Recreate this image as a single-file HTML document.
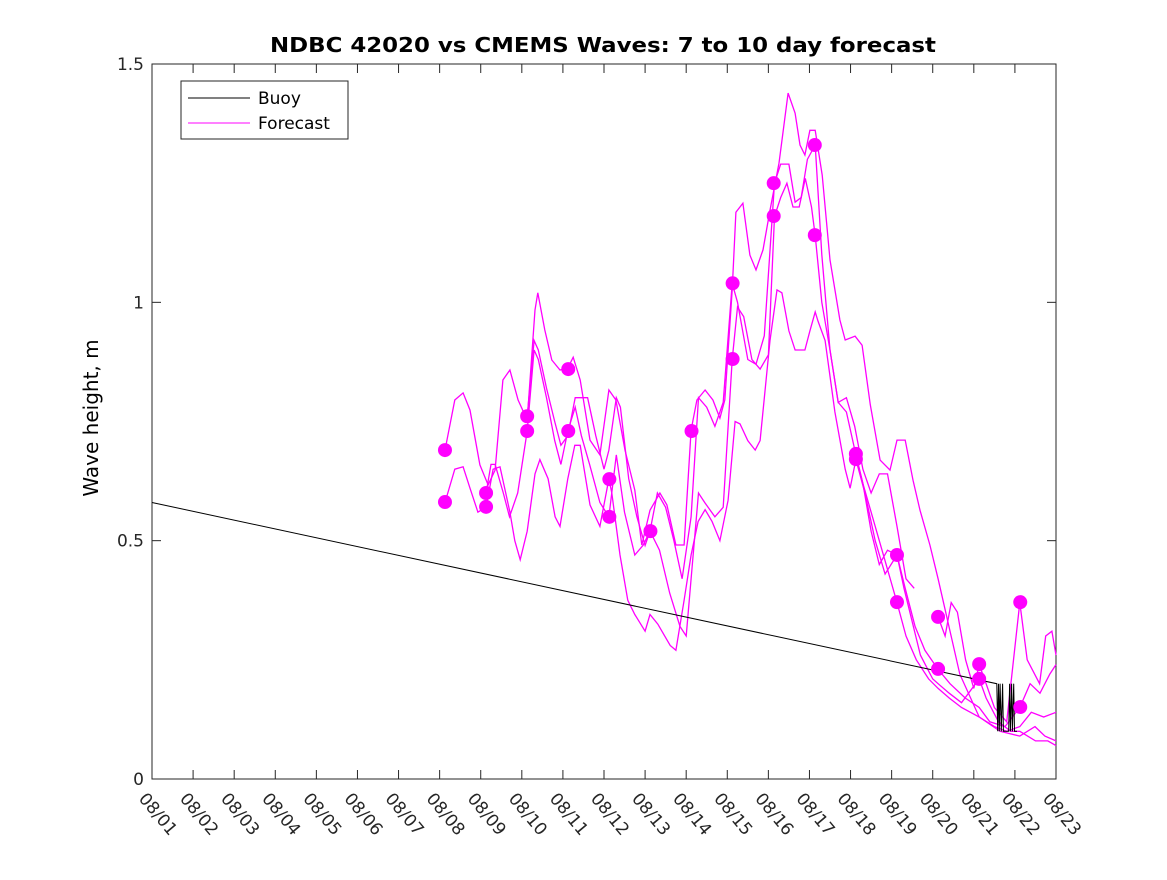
<!DOCTYPE html>
<html><head><meta charset="utf-8"><style>
body{margin:0;background:#fff}
svg text{font-family:"DejaVu Sans","Liberation Sans",sans-serif}
</style></head><body>
<svg id="chart" width="1167" height="875" xmlns="http://www.w3.org/2000/svg">
<rect x="0" y="0" width="1167" height="875" fill="#fff"/>
<text x="603" y="52" text-anchor="middle" font-size="20" font-weight="bold" textLength="666" lengthAdjust="spacingAndGlyphs">NDBC 42020 vs CMEMS Waves: 7 to 10 day forecast</text>
<text transform="translate(98,418) rotate(-90)" text-anchor="middle" font-size="20">Wave height, m</text>
<g id="plot"></g>
</svg>
<script>
const xTickLabels=["08/01","08/02","08/03","08/04","08/05","08/06","08/07","08/08","08/09","08/10","08/11","08/12","08/13","08/14","08/15","08/16","08/17","08/18","08/19","08/20","08/21","08/22","08/23"];
const yTicks=[0,0.5,1,1.5];
const yTickLabels=["0","0.5","1","1.5"];
const buoyDays=[1,21.56,21.58,21.6,21.62,21.64,21.67,21.7,21.72,21.85,21.87,21.89,21.92,21.94,21.97,21.99,22.05];
const buoyVals=[0.58,0.2,0.1,0.2,0.1,0.2,0.1,0.2,0.1,0.1,0.2,0.1,0.2,0.1,0.2,0.1,0.1];
const s1Days=[8.13,8.37,8.57,8.74,8.98,9.18,9.35,9.54,9.71,9.91,10.13,10.32,10.39,10.56,10.73,10.93,11.12,11.25,11.42,11.66,11.90,12.12,12.29,12.51,12.75,12.92,13.12,13.36,13.53,13.75,13.95,14.12,14.26,14.46,14.65,14.82,14.94,15.12,15.21,15.38,15.55,15.70,15.87,16.04,16.26,16.48,16.65,16.77,16.89,17.01,17.14,17.31,17.50,17.74,17.87,18.11,18.28,18.48,18.72,18.96,19.13,19.33,19.52,19.69,19.93,20.13,20.66,21.13,21.64,22.12,22.49,22.73,23.0];
const s1Vals=[.69,.795,.81,.774,.659,.617,.648,.837,.858,.795,.753,.984,1.02,.942,.879,.858,.862,.885,.837,.711,.68,.816,.795,.69,.606,.491,.564,.6,.575,.491,.491,.732,.795,.816,.795,.757,.795,1.026,1.189,1.208,1.099,1.068,1.11,1.193,1.292,1.439,1.397,1.33,1.309,1.361,1.361,1.267,1.089,.963,.921,.929,.91,.785,.669,.648,.711,.711,.627,.564,.491,.42,.22,.13,.1,.09,.11,.09,.08];
const s2Days=[9.13,9.25,9.35,9.55,9.7,9.9,10.13,10.3,10.4,10.6,10.8,10.95,11.12,11.3,11.45,11.65,11.9,12.12,12.3,12.5,12.75,12.95,13.12,13.35,13.6,13.85,14.0,14.12,14.3,14.45,14.7,14.9,15.12,15.25,15.4,15.6,15.8,16.0,16.15,16.3,16.45,16.6,16.75,16.9,17.05,17.14,17.3,17.5,17.7,17.9,18.13,18.3,18.5,18.7,18.9,19.13,19.35,19.6,19.9,20.13,20.4,20.7,21.13,21.5,21.8,22.12,22.4,22.7,23];
const s2Vals=[.6,.66,.66,.6,.55,.6,.73,.9,.88,.8,.71,.66,.73,.78,.72,.66,.58,.55,.68,.56,.47,.49,.52,.48,.39,.32,.3,.42,.6,.58,.55,.57,.88,.99,.97,.88,.86,.89,1.18,1.22,1.25,1.2,1.2,1.26,1.2,1.14,1.0,.9,.79,.77,.68,.62,.56,.5,.44,.37,.3,.25,.21,.19,.17,.15,.13,.11,.1,.11,.14,.13,.14];
const s3Days=[8.13,8.37,8.57,8.74,8.93,9.13,9.30,9.47,9.71,9.83,9.96,10.13,10.32,10.44,10.64,10.81,10.93,11.12,11.29,11.42,11.66,11.90,12.12,12.19,12.39,12.58,12.75,13.00,13.12,13.31,13.61,13.75,13.95,14.12,14.29,14.46,14.63,14.82,15.02,15.19,15.31,15.50,15.68,15.80,16.04,16.21,16.33,16.50,16.65,16.89,17.01,17.14,17.21,17.38,17.62,17.87,17.99,18.13,18.35,18.60,18.84,19.13,19.33,19.57,19.81,20.13,20.42,20.79,21.13,21.39,21.76,22.12,22.37,22.61,22.85,23];
const s3Vals=[.58,.65,.655,.61,.56,.57,.65,.655,.56,.5,.46,.52,.64,.67,.63,.55,.53,.63,.70,.70,.575,.53,.63,.6,.47,.375,.345,.31,.345,.325,.28,.27,.375,.47,.54,.565,.54,.5,.585,.75,.745,.71,.69,.71,.92,1.026,1.02,.94,.9,.9,.94,.98,.96,.92,.77,.65,.61,.67,.6,.5,.43,.47,.40,.32,.27,.23,.2,.17,.15,.12,.11,.15,.2,.18,.22,.24];
const s4Days=[10.13,10.3,10.4,10.6,10.8,10.95,11.12,11.3,11.45,11.6,11.8,12.0,12.12,12.3,12.4,12.6,12.8,13.0,13.12,13.3,13.5,13.7,13.9,14.12,14.3,14.5,14.7,14.9,15.12,15.25,15.5,15.7,15.9,16.15,16.3,16.5,16.65,16.8,16.95,17.14,17.3,17.5,17.7,17.9,18.1,18.3,18.5,18.7,18.9,19.13,19.35,19.55];
const s4Vals=[.76,.92,.9,.82,.75,.7,.72,.8,.8,.8,.72,.65,.69,.8,.78,.63,.55,.49,.52,.6,.57,.5,.42,.55,.8,.78,.74,.79,1.04,1.0,.88,.87,.93,1.25,1.29,1.29,1.21,1.22,1.3,1.33,1.1,.9,.79,.8,.74,.65,.6,.64,.64,.53,.42,.4];
const s5Days=[20.13,20.3,20.45,20.6,20.8,21.0,21.13,21.3,21.5,21.8,22.12,22.3,22.6,22.75,22.9,23];
const s5Vals=[.34,.3,.37,.35,.25,.19,.24,.2,.15,.12,.37,.25,.2,.3,.31,.26];
const s6Days=[18.13,18.3,18.5,18.7,18.9,19.13,19.3,19.5,19.7,20.0,20.13,20.4,20.7,21.13,21.3,21.6,21.9,22.12,22.5,22.8,23];
const s6Vals=[.68,.62,.52,.45,.48,.47,.4,.33,.26,.21,.2,.18,.16,.21,.17,.12,.1,.1,.08,.08,.07];
const dotDays=[8.13,8.13,9.13,9.13,10.13,10.13,11.13,11.13,12.13,12.13,13.13,14.13,15.13,15.13,16.13,16.13,17.13,17.13,18.13,18.13,19.13,19.13,20.13,20.13,21.13,21.13,22.13,22.13];
const dotVals=[.69,.581,.6,.571,.761,.73,.86,.73,.629,.55,.52,.73,1.04,.881,1.25,1.181,1.33,1.141,.682,.671,.47,.371,.34,.231,.241,.21,.371,.151];

const L=152,R=1056,T=64,B=779;
const xs=d=>L+(d-1)*(R-L)/22;
const ys=v=>B-v*(B-T)/1.5;
const NS="http://www.w3.org/2000/svg";
const g=document.getElementById('plot');
function mk(tag,attrs){const e=document.createElementNS(NS,tag);for(const k in attrs)e.setAttribute(k,attrs[k]);g.appendChild(e);return e;}

const box=mk('rect',{x:L,y:T,width:R-L,height:B-T,fill:'none',stroke:'#262626','stroke-width':1});



xTickLabels.forEach((lab,i)=>{
  const x=xs(i+1);
  const t1=mk('line',{x1:x,y1:B,x2:x,y2:B-9,stroke:'#262626'});
  
  
  const t2=mk('line',{x1:x,y1:T,x2:x,y2:T+9,stroke:'#262626'});
  
  
  const tx=mk('text',{x:x-14,y:B+20,'font-size':17,fill:'#262626',transform:`rotate(50 ${x-14} ${B+20})`});
  tx.textContent=lab;
  
  
});
yTicks.forEach((v,i)=>{
  const y=ys(v);
  const a=mk('line',{x1:L,y1:y,x2:L+9,y2:y,stroke:'#262626'});
  
  
  const b=mk('line',{x1:R,y1:y,x2:R-9,y2:y,stroke:'#262626'});
  
  
  const t=mk('text',{x:L-8,y:y+6,'font-size':17,'text-anchor':'end',fill:'#262626'});
  t.textContent=yTickLabels[i];
  
  
});

function path(days,vals,color,w,name){
  const p=mk('polyline',{points:days.map((d,i)=>xs(d).toFixed(1)+','+ys(vals[i]).toFixed(1)).join(' '),fill:'none',stroke:color,'stroke-width':w});
  
  
}
path(s1Days,s1Vals,'#ff00ff',1.3,'forecast-line-1');
path(s2Days,s2Vals,'#ff00ff',1.3,'forecast-line-2');
path(s3Days,s3Vals,'#ff00ff',1.3,'forecast-line-3');
path(s4Days,s4Vals,'#ff00ff',1.3,'forecast-line-4');
path(s5Days,s5Vals,'#ff00ff',1.3,'forecast-line-5');
path(s6Days,s6Vals,'#ff00ff',1.3,'forecast-line-6');
path(buoyDays,buoyVals,'#000',1,'buoy-line');
dotDays.forEach((d,i)=>{
  const c=mk('circle',{cx:xs(d),cy:ys(dotVals[i]),r:7,fill:'#ff00ff'});
  
  
});

const lg=mk('rect',{x:181,y:81,width:167,height:58,fill:'#fff',stroke:'#262626'});


const l1=mk('line',{x1:188,y1:98,x2:250,y2:98,stroke:'#000'});


const l2=mk('line',{x1:188,y1:123,x2:250,y2:123,stroke:'#ff00ff'});


const lt1=mk('text',{x:258,y:104,'font-size':17});
lt1.textContent='Buoy';


const lt2=mk('text',{x:258,y:129,'font-size':17});
lt2.textContent='Forecast';


</script>
</body></html>
